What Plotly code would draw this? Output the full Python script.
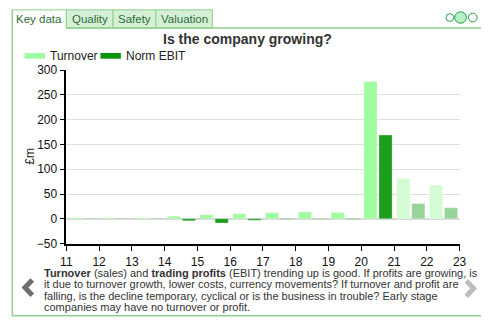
import plotly.graph_objects as go

years = [11, 12, 13, 14, 15, 16, 17, 18, 19, 20, 21, 22]
turnover = [2, 2, 2, 5, 8, 10, 12, 13.5, 12.5, 277, 82, 68]
norm_ebit = [-0.5, -0.5, -0.5, -4, -8.5, -3, -1, -1, -1, 169, 31, 22]
forecast = [False] * 10 + [True, True]
x_tick_labels = [str(v) for v in range(11, 24)]
y_ticks = [-50, 0, 50, 100, 150, 200, 250, 300]

W, H = 488, 330
def px(x):
    return x / W
def py(y):
    return 1 - y / H

FONT = "Liberation Sans, Arial, sans-serif"
t_col = ["rgba(212,252,212,1)" if f else "rgba(160,252,160,1)" for f in forecast]
e_col = ["rgba(152,212,152,1)" if f else "rgba(28,160,28,1)" for f in forecast]

fig = go.Figure()
xc = [y + 0.5 for y in years]
fig.add_trace(go.Bar(x=xc, y=turnover, width=0.4, offset=-0.42,
                     marker=dict(color=t_col, line=dict(color="rgba(255,255,255,0.5)", width=0.5)),
                     name="Turnover", showlegend=False, hoverinfo="skip"))
fig.add_trace(go.Bar(x=xc, y=norm_ebit, width=0.4, offset=0.04,
                     marker=dict(color=e_col, line=dict(color="rgba(255,255,255,0.5)", width=0.5)),
                     name="Norm EBIT", showlegend=False, hoverinfo="skip"))

green = "#8fd18f"
shapes = []
shapes.append(dict(type="line", xref="paper", yref="paper", x0=px(6.5), x1=px(6.5), y0=py(3), y1=py(322.5), line=dict(color=green, width=1.5)))
shapes.append(dict(type="line", xref="paper", yref="paper", x0=px(6), x1=px(488), y0=py(322.5), y1=py(322.5), line=dict(color=green, width=1.5)))
shapes.append(dict(type="line", xref="paper", yref="paper", x0=px(62), x1=px(488), y0=py(22), y1=py(22), line=dict(color=green, width=1.5)))
tabs = [("Key data", 6.5, 62, True), ("Quality", 62, 110, False), ("Safety", 110, 154, False), ("Valuation", 154, 212, False)]
annotations = []
for name, x0, x1, sel in tabs:
    fill = "white" if sel else "#d6f0d6"
    shapes.append(dict(type="rect", xref="paper", yref="paper", x0=px(x0), x1=px(x1), y0=py(22), y1=py(3),
                       fillcolor=fill, line=dict(color=green, width=1), layer="below"))
    annotations.append(dict(xref="paper", yref="paper", x=px((x0 + x1) / 2), y=py(12.5), text=name, showarrow=False,
                            xanchor="center", yanchor="middle", font=dict(size=11.5, color="#2d6b3a", family=FONT)))
shapes.append(dict(type="line", xref="paper", yref="paper", x0=px(7.5), x1=px(61.5), y0=py(22), y1=py(22), line=dict(color="white", width=2)))
for cx, r, fill in [(456, 4, "white"), (467, 6, "#b5f0c5"), (479.5, 4.5, "white")]:
    shapes.append(dict(type="circle", xref="paper", yref="paper", x0=px(cx - r), x1=px(cx + r), y0=py(11 + r), y1=py(11 - r),
                       fillcolor=fill, line=dict(color="#22a04a", width=1)))
shapes.append(dict(type="rect", xref="paper", yref="paper", x0=px(19), x1=px(40), y0=py(54), y1=py(48), fillcolor="#a0fca0", line=dict(width=0)))
shapes.append(dict(type="rect", xref="paper", yref="paper", x0=px(97), x1=px(118), y0=py(54), y1=py(48), fillcolor="#0a960a", line=dict(width=0)))
annotations.append(dict(xref="paper", yref="paper", x=px(43), y=py(51), text="Turnover", showarrow=False, xanchor="left", yanchor="middle",
                        font=dict(size=12, color="#222", family=FONT)))
annotations.append(dict(xref="paper", yref="paper", x=px(121), y=py(51), text="Norm EBIT", showarrow=False, xanchor="left", yanchor="middle",
                        font=dict(size=12, color="#222", family=FONT)))
annotations.append(dict(xref="paper", yref="paper", x=px(248), y=py(33), text="<b>Is the company growing?</b>", showarrow=False,
                        xanchor="center", yanchor="middle", font=dict(size=14, color="#333", family=FONT)))
annotations.append(dict(xref="paper", yref="paper", x=px(25), y=py(156), text="£m", showarrow=False, textangle=-90,
                        xanchor="center", yanchor="middle", font=dict(size=12, color="#222", family=FONT)))
lines = [
    "<b>Turnover</b> (sales) and <b>trading profits</b> (EBIT) trending up is good. If profits are growing, is",
    "it due to turnover growth, lower costs, currency movements? If turnover and profit are",
    "falling, is the decline temporary, cyclical or is the business in trouble? Early stage",
    "companies may have no turnover or profit.",
]
for i, ln in enumerate(lines):
    annotations.append(dict(xref="paper", yref="paper", x=px(36.5), y=py(277.5 + 12 * i), text=ln, showarrow=False,
                            xanchor="left", yanchor="middle", font=dict(size=11, color="#333", family=FONT)))
shapes.append(dict(type="path", xref="paper", yref="paper",
                   path=f"M {px(27)} {py(285)} L {px(19.5)} {py(293)} L {px(27)} {py(301)}",
                   line=dict(color="#6e6e6e", width=5)))
shapes.append(dict(type="path", xref="paper", yref="paper",
                   path=f"M {px(473)} {py(286)} L {px(480.5)} {py(294)} L {px(473)} {py(302)}",
                   line=dict(color="#bdbdbd", width=5)))

fig.update_layout(
    width=W, height=H, margin=dict(l=0, r=0, t=0, b=0),
    paper_bgcolor="white", plot_bgcolor="white",
    shapes=shapes, annotations=annotations, showlegend=False,
    font=dict(family=FONT, color="#222"),
    xaxis=dict(domain=[px(62), px(466)], range=[11, 23], tickmode="array", tickvals=list(range(11, 24)),
               ticktext=x_tick_labels, ticks="outside", ticklen=6, tickcolor="black", showline=True, linecolor="black",
               linewidth=1.5, showgrid=False, zeroline=False, tickfont=dict(size=12, color="#111")),
    yaxis=dict(domain=[py(247), py(66)], range=[-50, 300], tickvals=y_ticks, ticks="outside", ticklen=5,
               tickcolor="black", showline=True, linecolor="black", linewidth=1.5, gridcolor="#e0e0e0",
               zeroline=True, zerolinecolor="#d8d8d8", zerolinewidth=1.5, tickfont=dict(size=12, color="#111")),
)
fig.write_html("out.html")
